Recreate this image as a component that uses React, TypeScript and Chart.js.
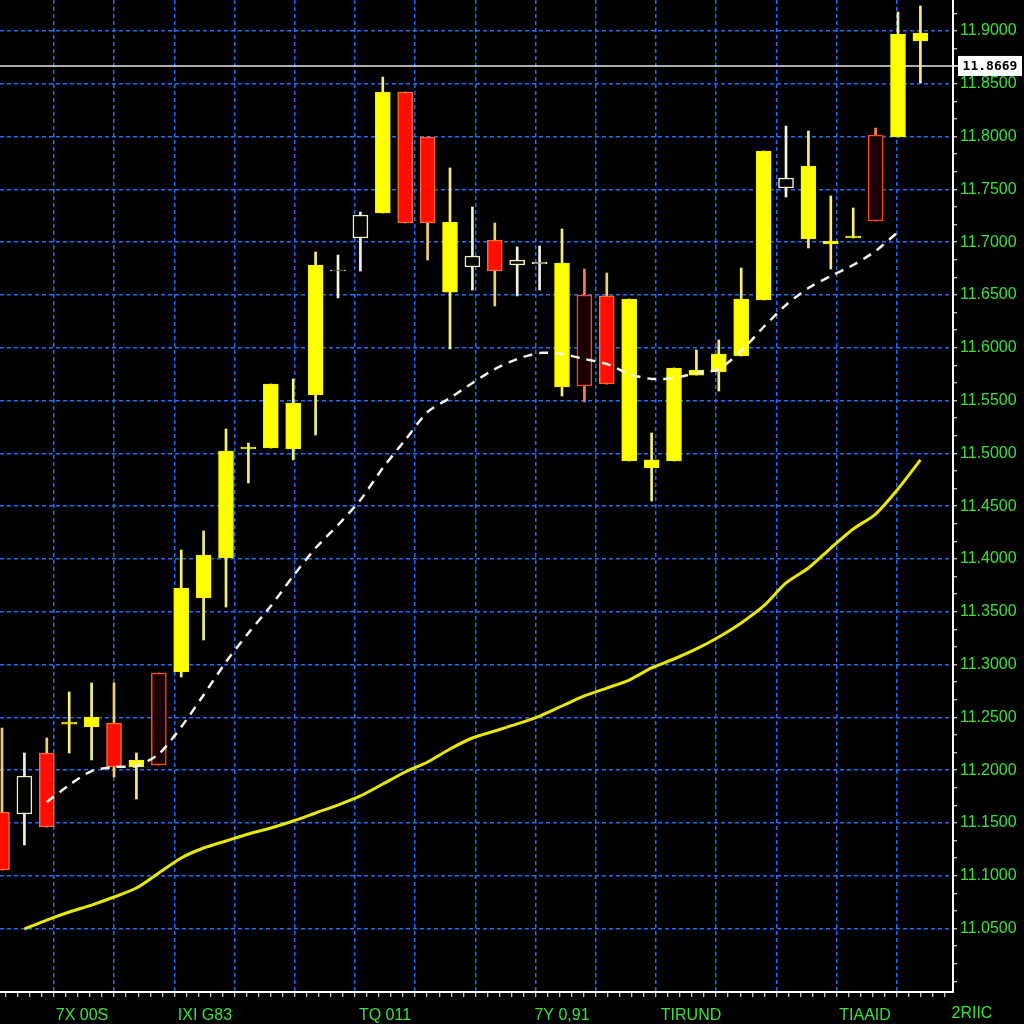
import React, { useEffect, useRef } from "react";
import { Chart, registerables } from "chart.js";

Chart.register(...registerables);

// ---- data ----
const candleOpen = [11.1604, 11.1585, 11.2163, 11.2437, 11.2409, 11.2447, 11.2030, 11.2920, 11.2930, 11.3631, 11.4010, 11.5042, 11.5051, 11.5042, 11.5553, 11.6727, 11.7040, 11.7277, 11.8422, 11.7996, 11.6528, 11.6765, 11.7021, 11.6784, 11.6794, 11.5629, 11.6500, 11.6491, 11.4928, 11.4862, 11.4928, 11.5742, 11.5771, 11.5922, 11.6453, 11.7513, 11.7030, 11.6983, 11.7040, 11.8015, 11.7996, 11.8905];
const candleHigh = [11.2399, 11.2163, 11.2305, 11.2741, 11.2826, 11.2826, 11.2163, 11.2920, 11.4085, 11.4265, 11.5231, 11.5098, 11.5657, 11.5705, 11.6907, 11.6879, 11.7286, 11.8564, 11.8422, 11.7996, 11.7703, 11.7333, 11.7182, 11.6955, 11.6964, 11.7125, 11.6746, 11.6708, 11.6462, 11.5193, 11.5809, 11.5979, 11.6074, 11.6756, 11.7864, 11.8100, 11.8053, 11.7438, 11.7324, 11.8081, 11.9180, 11.9237];
const candleLow = [11.1055, 11.1292, 11.1462, 11.2163, 11.2097, 11.1936, 11.1727, 11.2049, 11.2883, 11.3233, 11.3545, 11.4720, 11.5051, 11.4938, 11.5174, 11.6472, 11.6727, 11.7277, 11.7182, 11.6831, 11.5989, 11.6547, 11.6396, 11.6491, 11.6547, 11.5544, 11.5487, 11.5657, 11.4928, 11.4549, 11.4928, 11.5742, 11.5591, 11.5922, 11.6453, 11.7428, 11.6945, 11.6746, 11.7040, 11.7201, 11.7996, 11.8508];
const candleClose = [11.1055, 11.1945, 11.1462, 11.2456, 11.2504, 11.2030, 11.2097, 11.2049, 11.3725, 11.4038, 11.5023, 11.5060, 11.5657, 11.5477, 11.6784, 11.6737, 11.7258, 11.8422, 11.7182, 11.7182, 11.7191, 11.6869, 11.6727, 11.6831, 11.6812, 11.6803, 11.5638, 11.5657, 11.6462, 11.4938, 11.5809, 11.5790, 11.5941, 11.6462, 11.7864, 11.7608, 11.7722, 11.7011, 11.7059, 11.7201, 11.8972, 11.8981];
// Y = yellow filled, R = red filled, W = white hollow, H = red hollow
const candleKind = ["R", "W", "R", "Y", "Y", "R", "Y", "H", "Y", "Y", "Y", "Y", "Y", "Y", "Y", "W", "W", "Y", "R", "R", "Y", "W", "R", "W", "W", "Y", "H", "R", "Y", "Y", "Y", "Y", "Y", "Y", "Y", "W", "Y", "Y", "Y", "H", "Y", "Y"];

const maFast = [null, null, 11.1699, 11.1860, 11.1992, 11.2030, 11.2040, 11.2153, 11.2409, 11.2712, 11.3025, 11.3299, 11.3555, 11.3839, 11.4104, 11.4322, 11.4559, 11.4862, 11.5127, 11.5392, 11.5525, 11.5667, 11.5799, 11.5894, 11.5951, 11.5941, 11.5894, 11.5847, 11.5752, 11.5705, 11.5714, 11.5761, 11.5799, 11.5970, 11.6197, 11.6405, 11.6566, 11.6680, 11.6784, 11.6917, 11.7097, null];
const maSlow = [null, 11.0496, 11.0581, 11.0657, 11.0723, 11.0799, 11.0884, 11.1027, 11.1169, 11.1263, 11.1330, 11.1396, 11.1453, 11.1519, 11.1595, 11.1670, 11.1756, 11.1869, 11.1983, 11.2078, 11.2201, 11.2305, 11.2371, 11.2438, 11.2513, 11.2608, 11.2703, 11.2778, 11.2854, 11.2968, 11.3053, 11.3148, 11.3261, 11.3394, 11.3555, 11.3773, 11.3915, 11.4104, 11.4284, 11.4426, 11.4663, 11.4938];

const lastPrice = 11.8669;
const lastPriceLabel = "11.8669";

const xLabels = ["7X 00S", "IXI G83", "TQ 011", "7Y 0,91", "TIRUND", "TIAAID"];
const xLabelPos = [3.57, 9.06, 17.1, 25.0, 30.76, 38.53];
const xEndLabel = "2RIIC";
const xEndLabelPos = 43.3;

const yTickMin = 11.05;
const yTickStep = 0.05;
const yTickCount = 18;

// ---- axis setup ----
const X_MIN = -0.0893;
const X_MAX = 42.455;
const X_GRID_START = 2.321;
const X_GRID_STEP = 2.6875;
const Y_MIN = 10.98996;
const Y_MAX = 11.92936;

const GREEN = "#3be03b";
const GRID_BLUE = "#1f6fff";
const FONT = "'Liberation Sans', Arial, sans-serif";

const near = (a: number, b: number) => Math.abs(a - b) < 1e-6;

const isYMajor = (v: number) => {
  const k = (v - yTickMin) / yTickStep;
  const r = Math.round(k);
  return Math.abs(k - r) < 1e-6 && r >= 0 && r <= yTickCount - 1;
};
const isXGrid = (v: number) => {
  const k = (v - X_GRID_START) / X_GRID_STEP;
  return Math.abs(k - Math.round(k)) < 1e-6;
};
const xLabelIndex = (v: number) => xLabelPos.findIndex((p) => near(p, v));

const bodyColor = (k: string) =>
  k === "Y" ? "#ffff00" : k === "R" ? "#ff0d00" : k === "W" ? "#000000" : "#1a0000";
const bodyBorder = (k: string) =>
  k === "Y" ? "#f2f200" : k === "R" ? "#ff6a2a" : k === "W" ? "#f4f0cc" : "#ff4a14";
const wickColor = (k: string) =>
  k === "Y" ? "#f8f07a" : k === "R" ? "#f0d070" : k === "W" ? "#f4f2dc" : "#ff8040";

const priceLinePlugin = {
  id: "priceLine",
  beforeDatasetsDraw(chart: any) {
    const { ctx, chartArea, scales } = chart;
    const y = scales.y.getPixelForValue(lastPrice);
    ctx.save();
    ctx.strokeStyle = "#e6e6e6";
    ctx.lineWidth = 1.5;
    ctx.beginPath();
    ctx.moveTo(chartArea.left, y);
    ctx.lineTo(chartArea.right + 6, y);
    ctx.stroke();
    ctx.restore();
  },
  afterDraw(chart: any) {
    const { ctx, chartArea, scales } = chart;
    const y = scales.y.getPixelForValue(lastPrice);
    ctx.save();
    ctx.fillStyle = "#ffffff";
    ctx.fillRect(chartArea.right + 5, y - 10, 64, 20);
    ctx.fillStyle = "#000000";
    ctx.font = "bold 13px 'DejaVu Sans Mono', monospace";
    ctx.textAlign = "center";
    ctx.textBaseline = "middle";
    ctx.fillText(lastPriceLabel, chartArea.right + 5 + 32, y + 1);
    // end label beyond the axis
    const xe = scales.x.getPixelForValue(xEndLabelPos);
    ctx.fillStyle = GREEN;
    ctx.font = `16px ${FONT}`;
    ctx.textAlign = "center";
    ctx.textBaseline = "top";
    ctx.fillText(xEndLabel, xe, chartArea.bottom + 14);
    ctx.restore();
  },
};

export default function App() {
  const ref = useRef<HTMLCanvasElement | null>(null);

  useEffect(() => {
    if (!ref.current) return;
    const idx = candleOpen.map((_, i) => i);
    const bodies = idx.map((i) => ({
      x: i,
      y: [Math.min(candleOpen[i], candleClose[i]), Math.max(candleOpen[i], candleClose[i])],
    }));
    const wicks = idx.map((i) => ({ x: i, y: [candleLow[i], candleHigh[i]] }));
    const fast = maFast
      .map((v, i) => (v == null ? null : { x: i, y: v }))
      .filter((p) => p !== null);
    const slow = maSlow
      .map((v, i) => (v == null ? null : { x: i, y: v }))
      .filter((p) => p !== null);

    const chart = new Chart(ref.current, {
      type: "bar",
      data: {
        datasets: [
          {
            type: "line",
            data: fast as any,
            borderColor: "#f6f4ea",
            borderWidth: 2.5,
            borderDash: [9, 7],
            pointRadius: 0,
            fill: false,
            tension: 0.25,
            order: -2,
          } as any,
          {
            type: "line",
            data: slow as any,
            borderColor: "#e8e800",
            borderWidth: 3,
            pointRadius: 0,
            fill: false,
            tension: 0.25,
            order: -1,
          } as any,
          {
            type: "bar",
            data: bodies as any,
            grouped: false,
            barThickness: 15,
            backgroundColor: idx.map((i) => bodyColor(candleKind[i])),
            borderColor: idx.map((i) => bodyBorder(candleKind[i])),
            borderWidth: idx.map((i) => (candleKind[i] === "Y" ? 1 : 1.5)),
            borderSkipped: false,
            order: 0,
          } as any,
          {
            type: "bar",
            data: wicks as any,
            grouped: false,
            barThickness: 2,
            backgroundColor: idx.map((i) => wickColor(candleKind[i])),
            borderWidth: 0,
            order: 1,
          } as any,
        ],
      },
      options: {
        animation: false,
        responsive: false,
        maintainAspectRatio: false,
        layout: { padding: 0 },
        plugins: { legend: { display: false }, tooltip: { enabled: false } },
        scales: {
          x: {
            type: "linear",
            min: X_MIN,
            max: X_MAX,
            offset: false,
            afterBuildTicks: (scale: any) => {
              const vals: number[] = [];
              const minorStep = X_GRID_STEP / 5;
              for (let k = -10; k < 100; k++) {
                const v = X_GRID_START + k * minorStep;
                if (v >= X_MIN && v <= X_MAX) vals.push(k % 5 === 0 ? X_GRID_START + (k / 5) * X_GRID_STEP : v);
              }
              xLabelPos.forEach((p) => vals.push(p));
              vals.sort((a, b) => a - b);
              scale.ticks = vals.map((v) => ({ value: v }));
            },
            afterFit: (scale: any) => {
              scale.height = 32;
              scale.paddingLeft = 0;
              scale.paddingRight = 0;
            },
            grid: {
              offset: false,
              color: (c: any) => (c.tick && isXGrid(c.tick.value) ? GRID_BLUE : "rgba(0,0,0,0)"),
              lineWidth: 1.5,
              tickColor: (c: any) => (c.tick && xLabelIndex(c.tick.value) >= 0 ? "rgba(0,0,0,0)" : "#ffffff"),
              tickLength: 5,
              tickWidth: 1,
            },
            border: { display: true, color: "#ffffff", width: 2, dash: [4, 3] },
            ticks: {
              autoSkip: false,
              maxRotation: 0,
              minRotation: 0,
              padding: 9,
              color: GREEN,
              font: { family: FONT, size: 16 },
              callback: (v: any) => {
                const i = xLabelIndex(Number(v));
                return i >= 0 ? xLabels[i] : "";
              },
            },
          },
          y: {
            type: "linear",
            position: "right",
            min: Y_MIN,
            max: Y_MAX,
            afterBuildTicks: (scale: any) => {
              const vals: number[] = [];
              const minorStep = yTickStep / 3;
              for (let k = -6; k <= (yTickCount - 1) * 3 + 6; k++) {
                const v = yTickMin + k * minorStep;
                if (v >= Y_MIN && v <= Y_MAX) vals.push(v);
              }
              scale.ticks = vals.map((v) => ({ value: v }));
            },
            afterFit: (scale: any) => {
              scale.width = 71;
              scale.paddingTop = 0;
              scale.paddingBottom = 0;
            },
            grid: {
              color: (c: any) => (c.tick && isYMajor(c.tick.value) ? GRID_BLUE : "rgba(0,0,0,0)"),
              lineWidth: 1.5,
              tickColor: "#ffffff",
              tickLength: 4,
              tickWidth: 1,
            },
            border: { display: true, color: "#ffffff", width: 2, dash: [4, 3] },
            ticks: {
              autoSkip: false,
              padding: 3,
              color: GREEN,
              font: { family: FONT, size: 16 },
              callback: (v: any) => (isYMajor(Number(v)) ? Number(v).toFixed(4) : ""),
            },
          },
        },
      },
      plugins: [priceLinePlugin],
    });
    return () => chart.destroy();
  }, []);

  return (
    <div
      style={{
        position: "fixed",
        left: 0,
        top: 0,
        width: 1024,
        height: 1024,
        background: "#000",
        overflow: "hidden",
      }}
    >
      <canvas ref={ref} width={1024} height={1024} style={{ display: "block" }} />
    </div>
  );
}
